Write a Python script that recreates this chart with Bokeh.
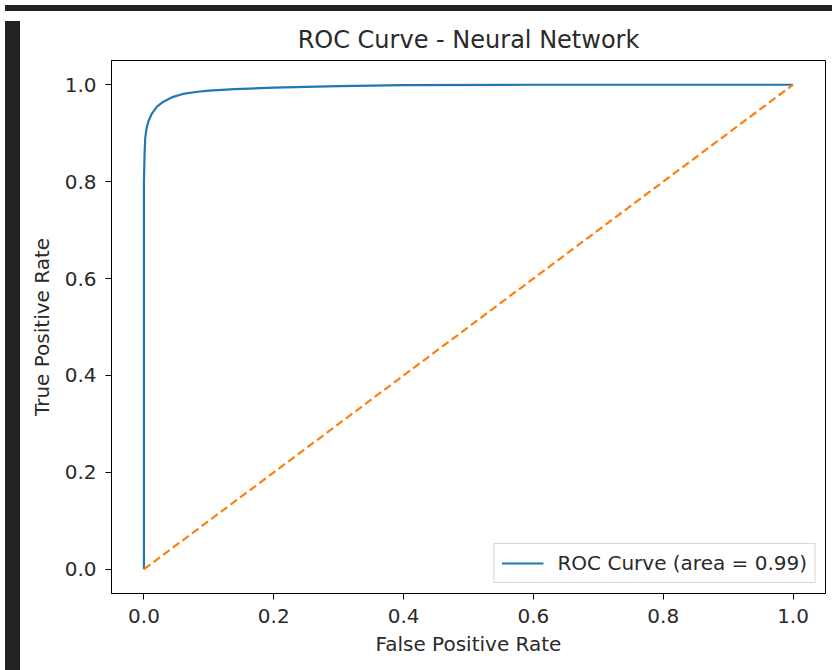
from bokeh.plotting import figure
from bokeh.models import Range1d, FixedTicker, PrintfTickFormatter, Legend, LegendItem, Div
from bokeh.layouts import column, row
from bokeh.embed import file_html
from bokeh.resources import INLINE

# ROC curve values
fpr = [0.0, 0.0, 0.001, 0.002, 0.004, 0.007, 0.012, 0.02, 0.03, 0.045, 0.06,
       0.08, 0.1, 0.14, 0.2, 0.3, 0.4, 0.6, 0.8, 1.0]
tpr = [0.0, 0.80, 0.86, 0.89, 0.91, 0.925, 0.94, 0.955, 0.965, 0.975, 0.981,
       0.985, 0.988, 0.991, 0.994, 0.997, 0.999, 1.0, 1.0, 1.0]
diag_x = [0.0, 1.0]
diag_y = [0.0, 1.0]
ticks = [0.0, 0.2, 0.4, 0.6, 0.8, 1.0]
auc_label = "ROC Curve (area = 0.99)"

FONT = "DejaVu Sans"
TXT = "#2a2a2a"

p = figure(width=805, height=651, output_backend="svg", toolbar_location=None,
           x_range=Range1d(-0.05, 1.05), y_range=Range1d(-0.05, 1.05),
           title="ROC Curve - Neural Network",
           min_border_left=86, min_border_top=44, min_border_right=5, min_border_bottom=74)
p.background_fill_color = "white"
p.border_fill_color = "white"
p.outline_line_color = "black"
p.outline_line_width = 1
p.xgrid.visible = False
p.ygrid.visible = False

p.title.align = "center"
p.title.text_font = FONT
p.title.text_font_size = "24px"
p.title.text_font_style = "normal"
p.title.text_color = TXT
p.title.standoff = 14

for ax in (p.xaxis[0], p.yaxis[0]):
    ax.ticker = FixedTicker(ticks=ticks)
    ax.formatter = PrintfTickFormatter(format="%.1f")
    ax.major_tick_in = 0
    ax.major_tick_out = 6
    ax.minor_tick_line_color = None
    ax.axis_line_color = "black"
    ax.major_tick_line_color = "black"
    ax.major_label_text_font = FONT
    ax.major_label_text_font_size = "20px"
    ax.major_label_text_color = TXT
    ax.axis_label_text_font = FONT
    ax.axis_label_text_font_size = "20px"
    ax.axis_label_text_font_style = "normal"
    ax.axis_label_text_color = TXT

p.xaxis.axis_label = "False Positive Rate"
p.yaxis.axis_label = "True Positive Rate"
p.xaxis.major_label_standoff = 9
p.yaxis.major_label_standoff = 9
p.xaxis.axis_label_standoff = 6
p.yaxis.axis_label_standoff = 8

roc = p.line(fpr, tpr, line_color="#1f77b4", line_width=2.2)
p.line(diag_x, diag_y, line_color="#ff7f0e", line_width=2.2, line_dash="8 4")

legend = Legend(items=[LegendItem(label=auc_label, renderers=[roc])],
                location="bottom_right")
legend.label_text_font = FONT
legend.label_text_font_size = "20px"
legend.label_text_color = TXT
legend.border_line_color = "#cccccc"
legend.border_line_alpha = 0.8
legend.background_fill_alpha = 0.8
legend.glyph_width = 42
legend.label_standoff = 14
legend.margin = 10
legend.padding = 7
p.add_layout(legend)

top_bar = Div(width=827, height=6, styles={"background-color": "#222222"})
left_bar = Div(width=15, height=651, styles={"background-color": "#222222"})
layout = column(top_bar, row(left_bar, p, spacing=0), spacing=0)

open("out.html", "w").write(file_html(layout, INLINE))
